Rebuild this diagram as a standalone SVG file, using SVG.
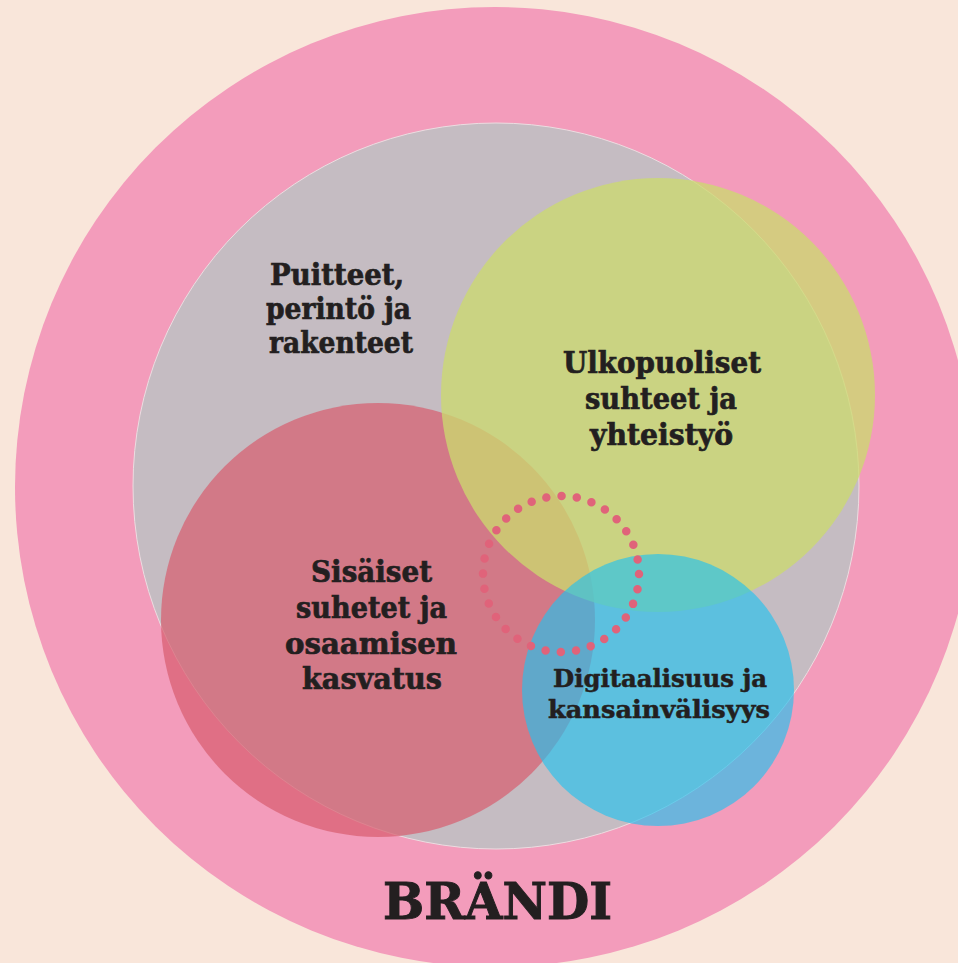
<svg xmlns="http://www.w3.org/2000/svg" width="958" height="963" viewBox="0 0 958 963">
  <style>
    .lbl { font-family: "DejaVu Serif", "Liberation Serif", serif; font-weight: bold; fill: #231f20; stroke: #231f20; stroke-width: 0.7px; text-anchor: middle; }
    .big { font-size: 30px; }
    .mid { font-size: 24px; stroke-width: 0.5px; }
    .brand { font-size: 51px; stroke-width: 1px; }
  </style>
  <rect x="0" y="0" width="958" height="963" fill="#f9e6da"/>
  <g id="brandi">
    <circle cx="495" cy="487" r="480" fill="#f39cbb"/>
    <text class="lbl brand" x="497.5" y="919" textLength="229" lengthAdjust="spacingAndGlyphs">BRÄNDI</text>
  </g>
  <g id="puitteet">
    <circle cx="496" cy="486" r="363" fill="#c5bcc2" stroke="#ecdde1" stroke-width="1"/>
    <text class="lbl big" x="337" y="285" textLength="134" lengthAdjust="spacingAndGlyphs">Puitteet,</text>
    <text class="lbl big" x="338.5" y="319" textLength="145" lengthAdjust="spacingAndGlyphs">perintö ja</text>
    <text class="lbl big" x="341" y="353" textLength="144" lengthAdjust="spacingAndGlyphs">rakenteet</text>
  </g>
  <g id="sisaiset">
    <circle cx="378" cy="620" r="217" fill="rgb(215,92,110)" fill-opacity="0.7"/>
  </g>
  <g id="ulkopuoliset">
    <circle cx="658" cy="395" r="217" fill="rgb(204,218,110)" fill-opacity="0.76"/>
    <text class="lbl big" x="662" y="373" textLength="198" lengthAdjust="spacingAndGlyphs">Ulkopuoliset</text>
    <text class="lbl big" x="661" y="409" textLength="152" lengthAdjust="spacingAndGlyphs">suhteet ja</text>
    <text class="lbl big" x="661.5" y="445" textLength="143" lengthAdjust="spacingAndGlyphs">yhteistyö</text>
  </g>
  <g id="sisaiset-text">
    <text class="lbl big" x="371.5" y="582" textLength="121" lengthAdjust="spacingAndGlyphs">Sisäiset</text>
    <text class="lbl big" x="371.5" y="618" textLength="151" lengthAdjust="spacingAndGlyphs">suhetet ja</text>
    <text class="lbl big" x="371" y="654" textLength="172" lengthAdjust="spacingAndGlyphs">osaamisen</text>
    <text class="lbl big" x="372" y="689" textLength="140" lengthAdjust="spacingAndGlyphs">kasvatus</text>
  </g>
  <g id="digitaalisuus">
    <circle cx="658" cy="690" r="136" fill="rgb(35,194,238)" fill-opacity="0.65"/>
    <text class="lbl mid" x="660" y="687" textLength="214" lengthAdjust="spacingAndGlyphs">Digitaalisuus ja</text>
    <text class="lbl mid" x="659" y="718" textLength="222" lengthAdjust="spacingAndGlyphs">kansainvälisyys</text>
  </g>
  <g id="ydin">
    <circle cx="561" cy="574" r="78" fill="none" stroke="#e0637a" stroke-width="8.5" stroke-linecap="round" stroke-dasharray="0 15.315"/>
  </g>
</svg>
